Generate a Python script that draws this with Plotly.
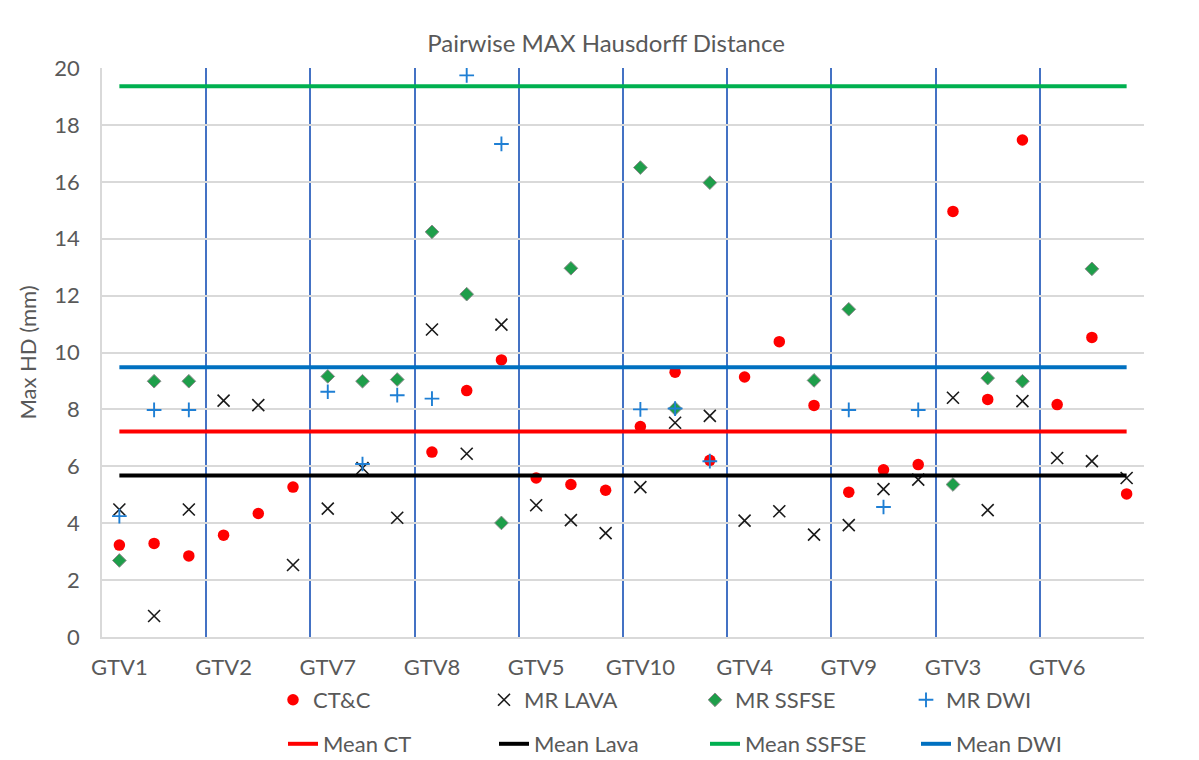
import plotly.graph_objects as go

# ---- data ----
groups = ["GTV1", "GTV2", "GTV7", "GTV8", "GTV5", "GTV10", "GTV4", "GTV9", "GTV3", "GTV6"]
per_group = 3
n = len(groups) * per_group
positions = list(range(n))

ct_c = [3.23, 3.29, 2.85, 3.58, 4.34, 5.27, None, None, None,
        6.50, 8.66, 9.74, 5.59, 5.36, 5.16, 7.40, 9.31, 6.21,
        9.14, 10.38, 8.14, 5.09, 5.88, 6.06, 14.96, 8.35, 17.47,
        8.17, 10.53, 5.03]
mr_lava = [4.48, 0.74, 4.48, 8.31, 8.15, 2.53, 4.51, 5.94, 4.19,
           10.81, 6.44, 10.98, 4.63, 4.11, 3.65, 5.27, 7.53, 7.77,
           4.09, 4.42, 3.60, 3.93, 5.20, 5.53, 8.41, 4.46, 8.29,
           6.29, 6.18, 5.59]
mr_ssfse = [2.69, 8.99, 8.99, None, None, None, 9.16, 8.99, 9.05,
            14.24, 12.05, 4.01, None, 12.96, None, 16.50, 8.03, 15.97,
            None, None, 9.02, 11.52, None, None, 5.36, 9.10, 8.99,
            None, 12.94, None]
mr_dwi = [4.25, 7.98, 7.98, None, None, None, 8.62, 6.08, 8.50,
          8.38, 19.74, 17.33, None, None, None, 8.00, 8.03, 6.18,
          None, None, None, 7.98, 4.57, 7.98, None, None, None,
          None, None, None]

mean_ct = 7.22
mean_lava = 5.68
mean_ssfse = 19.36
mean_dwi = 9.48

tick_positions = [i * per_group for i in range(len(groups))]
boundaries = [i * per_group + per_group - 0.5 for i in range(len(groups))]

FONT = "Lato"
GREY = "#595959"
PAGE_OFFSET = 8            # the page body margin shifts the figure by 8 px
W, H = 1199 - PAGE_OFFSET, 760 - PAGE_OFFSET


def cx(px):  # screen x -> container fraction
    return (px - PAGE_OFFSET) / W


def cy(py):  # screen y -> container fraction
    return 1 - (py - PAGE_OFFSET) / H


fig = go.Figure()

fig.add_trace(go.Scatter(x=positions, y=ct_c, mode="markers", name="CT&C",
                         marker=dict(symbol="circle", size=11.5, color="#FF0000"),
                         legend="legend"))
fig.add_trace(go.Scatter(x=positions, y=mr_lava, mode="markers", name="MR LAVA",
                         marker=dict(symbol="x-thin", size=12, color="#1a1a1a",
                                     line=dict(color="#1a1a1a", width=1.6)),
                         legend="legend"))
fig.add_trace(go.Scatter(x=positions, y=mr_ssfse, mode="markers", name="MR SSFSE",
                         marker=dict(symbol="diamond", size=10.5, color="#1E9E4A",
                                     line=dict(color="#8a8a8a", width=1)),
                         legend="legend"))
fig.add_trace(go.Scatter(x=positions, y=mr_dwi, mode="markers", name="MR DWI",
                         marker=dict(symbol="cross-thin", size=10.5, color="#1F7FD4",
                                     line=dict(color="#1F7FD4", width=1.9)),
                         legend="legend"))

for name, val, col in [("Mean CT", mean_ct, "#FF0000"),
                       ("Mean Lava", mean_lava, "#000000"),
                       ("Mean SSFSE", mean_ssfse, "#00B050"),
                       ("Mean DWI", mean_dwi, "#0070C0")]:
    fig.add_trace(go.Scatter(x=positions, y=[val] * n, mode="lines", name=name,
                             line=dict(color=col, width=4), legend="legend2"))

plot_left, plot_right, plot_top, plot_bottom = 102, 1144, 68, 637  # screen px

fig.update_layout(
    width=W, height=H,
    margin=dict(l=plot_left - PAGE_OFFSET, r=W - (plot_right - PAGE_OFFSET),
                t=plot_top - PAGE_OFFSET, b=H - (plot_bottom - PAGE_OFFSET),
                autoexpand=False),
    paper_bgcolor="white", plot_bgcolor="white",
    font=dict(family=FONT, size=22, color=GREY),
    title=dict(text="Pairwise MAX Hausdorff Distance", x=cx(606), xanchor="center",
               y=cy(44), yanchor="middle", yref="container", xref="container",
               font=dict(family=FONT, size=24, color=GREY)),
    xaxis=dict(range=[-0.5, n - 0.5], tickmode="array", tickvals=tick_positions,
               ticktext=groups, showgrid=False, zeroline=False, automargin=False,
               showline=True, linecolor="#d9d9d9", linewidth=1.5,
               ticks="", ticklabelstandoff=10,
               tickfont=dict(family=FONT, size=22, color=GREY),
               minor=dict(tickmode="array", tickvals=boundaries, showgrid=True,
                          gridcolor="#4472C4", gridwidth=1.5, ticks="")),
    yaxis=dict(range=[0, 20], dtick=2, showgrid=True, gridcolor="#d9d9d9",
               gridwidth=1.5, zeroline=False, showline=True, linecolor="#d9d9d9",
               linewidth=1.5, ticks="", ticklabelstandoff=16, automargin=False,
               tickfont=dict(family=FONT, size=22, color=GREY),
               title=dict(text="Max HD (mm)", standoff=12,
                          font=dict(family=FONT, size=22, color=GREY))),
    legend=dict(orientation="h", x=cx(273), xanchor="left", xref="container",
                y=cy(700), yanchor="middle", yref="container",
                entrywidth=166, entrywidthmode="pixels",
                font=dict(family=FONT, size=22, color=GREY),
                bgcolor="rgba(0,0,0,0)"),
    legend2=dict(orientation="h", x=cx(283), xanchor="left", xref="container",
                 y=cy(744), yanchor="middle", yref="container",
                 entrywidth=166, entrywidthmode="pixels",
                 font=dict(family=FONT, size=22, color=GREY),
                 bgcolor="rgba(0,0,0,0)"),
    showlegend=True,
)

fig.write_html("out.html")
